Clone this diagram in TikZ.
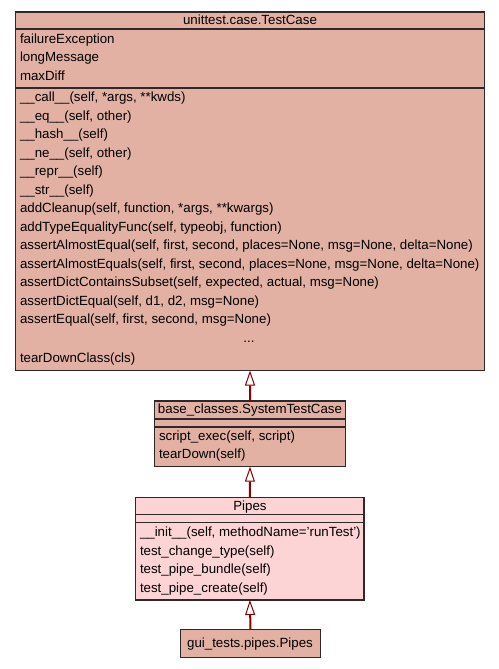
\documentclass[tikz,border=0pt]{standalone}
\usepackage{fontspec}
\setmainfont{Liberation Sans}
\usetikzlibrary{arrows.meta}
\definecolor{clsfill}{RGB}{226,177,164}
\definecolor{pipefill}{RGB}{253,212,213}
\definecolor{boxline}{RGB}{48,40,40}
\definecolor{edgered}{RGB}{139,0,0}
\begin{document}
\begin{tikzpicture}[x=1bp,y=-1bp,
  cls/.style={draw=boxline, line width=1.2bp, fill=clsfill, inner sep=0pt, outer sep=0pt, anchor=north west},
  sepline/.style={draw=boxline, line width=1.2bp},
  txt/.style={inner sep=0pt, outer sep=0pt, font=\fontsize{13.3bp}{16bp}\selectfont, text=black},
  inh/.style={draw=edgered, line width=2bp, -{Triangle[length=15bp,width=10bp,fill=white,line width=1bp]}}
]
\useasboundingbox (0,0) rectangle (499,669);
% ---- unittest.case.TestCase
\node[cls, minimum width=469bp, minimum height=358.5bp] (tc) at (15.5,12) {};
\draw[sepline] (tc.west |- 0,29) -- (tc.east |- 0,29);
\draw[sepline] (tc.west |- 0,88) -- (tc.east |- 0,88);
\node[txt, anchor=base] (tct) at (250,25) {unittest.case.TestCase};
\node[txt, anchor=base west] (a1) at (20,43.5) {failureException};
\node[txt, anchor=base west] (a2) at (20,62) {longMessage};
\node[txt, anchor=base west] (a3) at (20,80.5) {maxDiff};
\node[txt, anchor=base west] (m1) at (20,101.8) {\_\_call\_\_(self, *args, **kwds)};
\node[txt, anchor=base west] (m2) at (20,120.3) {\_\_eq\_\_(self, other)};
\node[txt, anchor=base west] (m3) at (20,138.8) {\_\_hash\_\_(self)};
\node[txt, anchor=base west] (m4) at (20,157.3) {\_\_ne\_\_(self, other)};
\node[txt, anchor=base west] (m5) at (20,175.8) {\_\_repr\_\_(self)};
\node[txt, anchor=base west] (m6) at (20,194.3) {\_\_str\_\_(self)};
\node[txt, anchor=base west] (m7) at (20,212.8) {addCleanup(self, function, *args, **kwargs)};
\node[txt, anchor=base west] (m8) at (20,231.3) {addTypeEqualityFunc(self, typeobj, function)};
\node[txt, anchor=base west] (m9) at (20,249.8) {assertAlmostEqual(self, first, second, places=None, msg=None, delta=None)};
\node[txt, anchor=base west] (m10) at (20,268.3) {assertAlmostEquals(self, first, second, places=None, msg=None, delta=None)};
\node[txt, anchor=base west] (m11) at (20,286.8) {assertDictContainsSubset(self, expected, actual, msg=None)};
\node[txt, anchor=base west] (m12) at (20,305.3) {assertDictEqual(self, d1, d2, msg=None)};
\node[txt, anchor=base west] (m13) at (20,323.8) {assertEqual(self, first, second, msg=None)};
\node[txt, anchor=base] (m14) at (249,342.3) {...};
\node[txt, anchor=base west] (m15) at (20,362.3) {tearDownClass(cls)};
% ---- base_classes.SystemTestCase
\node[cls, minimum width=191.4bp, minimum height=65.7bp] (stc) at (154.3,401) {};
\draw[sepline] (stc.west |- 0,419) -- (stc.east |- 0,419);
\draw[sepline] (stc.west |- 0,427) -- (stc.east |- 0,427);
\node[txt, anchor=base] (stct) at (250,413.5) {base\_classes.SystemTestCase};
\node[txt, anchor=base west] (s1) at (159,440.2) {script\_exec(self, script)};
\node[txt, anchor=base west] (s2) at (159,458.5) {tearDown(self)};
% ---- Pipes
\node[cls, fill=pipefill, minimum width=228.3bp, minimum height=102.7bp] (pp) at (135.7,497.3) {};
\draw[sepline] (pp.west |- 0,514.3) -- (pp.east |- 0,514.3);
\draw[sepline] (pp.west |- 0,522.7) -- (pp.east |- 0,522.7);
\node[txt, anchor=base] (ppt) at (250,510) {Pipes};
\node[txt, anchor=base west] (p1) at (140,536.5) {\_\_init\_\_(self, methodName='runTest')};
\node[txt, anchor=base west] (p2) at (140,555) {test\_change\_type(self)};
\node[txt, anchor=base west] (p3) at (140,573.5) {test\_pipe\_bundle(self)};
\node[txt, anchor=base west] (p4) at (140,592) {test\_pipe\_create(self)};
% ---- gui_tests.pipes.Pipes
\node[cls, minimum width=140.4bp, minimum height=28.4bp] (gp) at (180.3,629.3) {};
\node[txt, anchor=base] (gpt) at (250,647) {gui\_tests.pipes.Pipes};
% ---- inheritance
\draw[inh] (stc.north) -- (tc.south);
\draw[inh] (pp.north) -- (stc.south);
\draw[inh] (gp.north) -- (pp.south);
\end{tikzpicture}
\end{document}
